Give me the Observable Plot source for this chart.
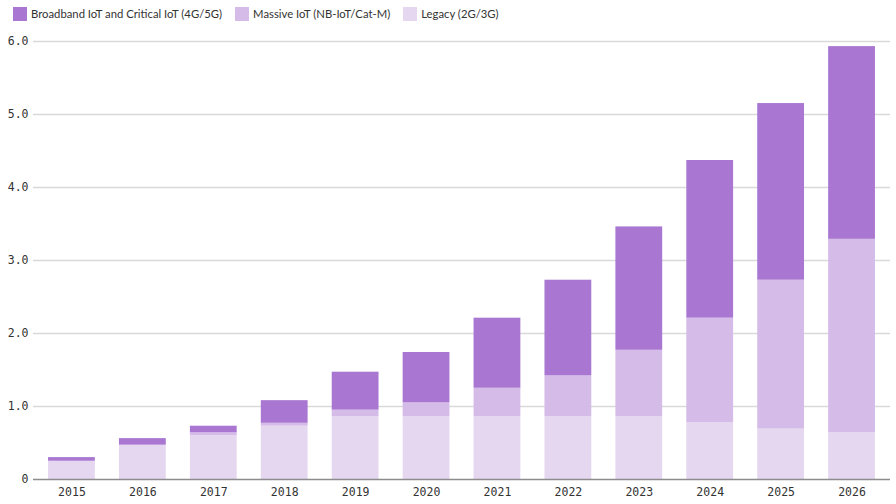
<!DOCTYPE html>
<html>
<head>
<meta charset="utf-8">
<script src="https://cdn.jsdelivr.net/npm/d3@7"></script>
<script src="https://cdn.jsdelivr.net/npm/@observablehq/plot@0.6"></script>
<style>
  body { margin: 0; background: #fff; width: 896px; height: 504px; overflow: hidden; }
  #legend { height: 26px; display: flex; align-items: center; font-family: Lato, "Noto Sans", sans-serif; font-size: 11.3px; color: #333; padding-left: 13px; box-sizing: border-box; padding-top: 1px; }
  .item { display: flex; align-items: center; margin-right: 13px; }
  .sw { width: 14px; height: 14px; margin-right: 4px; }
</style>
</head>
<body>
<div id="legend"></div>
<div id="chart"></div>
<script>
const years = ["2015","2016","2017","2018","2019","2020","2021","2022","2023","2024","2025","2026"];
const seriesNames = ["Broadband IoT and Critical IoT (4G/5G)", "Massive IoT (NB-IoT/Cat-M)", "Legacy (2G/3G)"];
const seriesColors = ["#a977d1", "#d5bbe8", "#e6d7f1"];
const legacy    = [0.25, 0.47, 0.60, 0.73, 0.86, 0.86, 0.86, 0.86, 0.86, 0.78, 0.69, 0.64];
const massive   = [0.00, 0.00, 0.04, 0.04, 0.09, 0.19, 0.39, 0.56, 0.91, 1.43, 2.04, 2.65];
const broadband = [0.05, 0.09, 0.09, 0.31, 0.52, 0.69, 0.96, 1.31, 1.69, 2.16, 2.42, 2.64];
const yTicks = [0, 1, 2, 3, 4, 5, 6];

const legend = document.getElementById("legend");
seriesNames.forEach((n, i) => {
  const it = document.createElement("div");
  it.className = "item";
  it.innerHTML = `<div class="sw" style="background:${seriesColors[i]}"></div><span>${n}</span>`;
  legend.appendChild(it);
});

const order = [seriesNames[2], seriesNames[1], seriesNames[0]];
const vals = [legacy, massive, broadband];
const data = [];
years.forEach((y, j) => {
  order.forEach((s, k) => data.push({year: y, series: s, value: vals[k][j]}));
});

const chart = Plot.plot({
  width: 896,
  height: 478,
  marginTop: 15,
  marginBottom: 25,
  marginLeft: 36,
  marginRight: 9,
  style: { fontFamily: "'DejaVu Sans Mono', monospace", fontSize: "11.5px", color: "#333" },
  x: { domain: years, paddingInner: 0.34, paddingOuter: 0.17, round: false, label: null, tickSize: 0, tickPadding: 8 },
  y: { domain: [0, 6], ticks: yTicks, label: null, tickSize: 0, tickPadding: 8,
       tickFormat: d => d === 0 ? "0" : d.toFixed(1) },
  color: { domain: seriesNames, range: seriesColors },
  marks: [
    Plot.ruleY(yTicks.slice(1), { stroke: "#d9d9d9", strokeWidth: 1.5, insetLeft: -3, insetRight: -3 }),
    Plot.barY(data, { x: "year", y: "value", fill: "series", order: order }),
    Plot.ruleY([0], { stroke: "#8c8c8c", strokeWidth: 1.5, insetLeft: -3, insetRight: -3 })
  ]
});
document.getElementById("chart").appendChild(chart);
</script>
</body>
</html>
